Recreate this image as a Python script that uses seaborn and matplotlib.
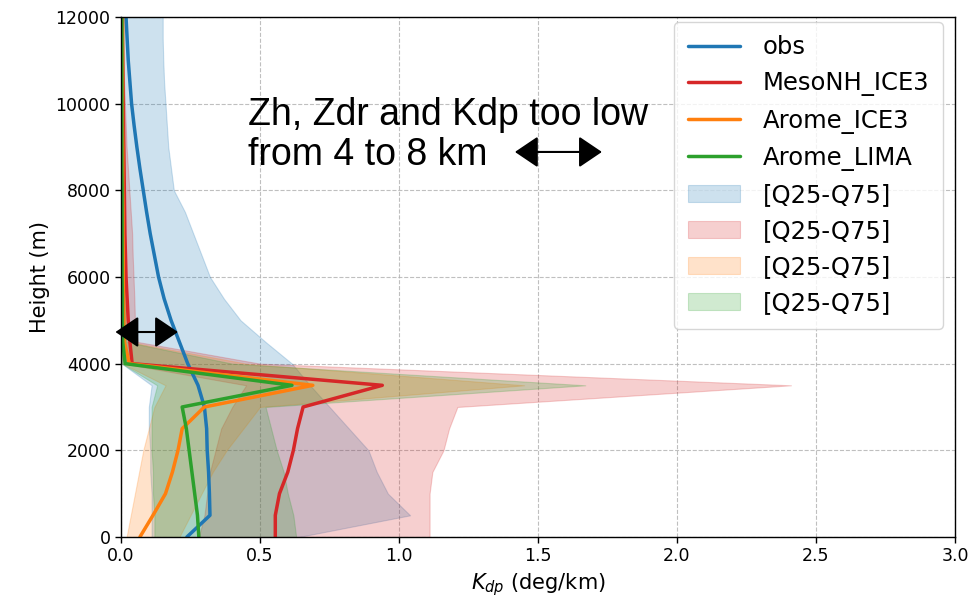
import numpy as np
import pandas as pd
import seaborn as sns
import matplotlib
matplotlib.use("Agg")
import matplotlib.pyplot as plt

# heights of the profile levels (m)
heights = [0, 500, 1000, 1500, 2000, 2500, 3000, 3500, 4000, 4500, 5000, 5500, 6000,
           6500, 7000, 7500, 8000, 8500, 9000, 9500, 10000, 10500, 11000, 11500, 12000]

# median Kdp profiles (deg/km)
obs_med = [0.237, 0.32, 0.318, 0.315, 0.31, 0.308, 0.30, 0.277, 0.24, 0.21, 0.18, 0.155, 0.135,
           0.12, 0.105, 0.092, 0.08, 0.068, 0.057, 0.047, 0.038, 0.032, 0.026, 0.022, 0.018]
mnh_med = [0.555, 0.555, 0.57, 0.60, 0.62, 0.635, 0.655, 0.94, 0.04, 0.032, 0.026, 0.022, 0.018,
           0.016, 0.014, 0.013, 0.012, 0.011, 0.010, 0.009, 0.008, 0.007, 0.006, 0.005, 0.005]
ice3_med = [0.068, 0.115, 0.16, 0.185, 0.205, 0.22, 0.30, 0.69, 0.03, 0.012, 0.010, 0.009, 0.008,
            0.008, 0.007, 0.007, 0.006, 0.006, 0.006, 0.005, 0.005, 0.005, 0.005, 0.005, 0.005]
lima_med = [0.28, 0.275, 0.265, 0.255, 0.245, 0.235, 0.22, 0.615, 0.015, 0.006, 0.005, 0.005, 0.004,
            0.004, 0.004, 0.004, 0.004, 0.003, 0.003, 0.003, 0.003, 0.003, 0.003, 0.003, 0.003]

# quartiles
obs_q25 = [0.11, 0.11, 0.11, 0.105, 0.105, 0.10, 0.10, 0.11, 0.003, 0, 0, 0, 0,
           0, 0, 0, 0, 0, 0, 0, 0, 0, 0, 0, 0]
obs_q75 = [0.64, 1.04, 0.96, 0.92, 0.89, 0.82, 0.75, 0.68, 0.615, 0.52, 0.43, 0.37, 0.32,
           0.29, 0.26, 0.23, 0.19, 0.18, 0.17, 0.165, 0.16, 0.155, 0.152, 0.15, 0.15]
mnh_q25 = [0.28, 0.30, 0.31, 0.32, 0.34, 0.36, 0.40, 0.45, 0.01, 0.005, 0.003, 0.002, 0.002,
           0.001, 0.001, 0.001, 0.001, 0, 0, 0, 0, 0, 0, 0, 0]
mnh_q75 = [1.11, 1.11, 1.11, 1.12, 1.16, 1.18, 1.21, 2.41, 0.50, 0.06, 0.05, 0.048, 0.045,
           0.042, 0.04, 0.035, 0.03, 0.025, 0.02, 0.017, 0.014, 0.011, 0.009, 0.007, 0.006]
ice3_q25 = [0.02, 0.035, 0.05, 0.065, 0.08, 0.10, 0.12, 0.16, 0.005, 0, 0, 0, 0,
            0, 0, 0, 0, 0, 0, 0, 0, 0, 0, 0, 0]
ice3_q75 = [0.21, 0.25, 0.29, 0.33, 0.38, 0.44, 0.50, 1.45, 0.45, 0.03, 0.02, 0.018, 0.016,
            0.015, 0.014, 0.013, 0.012, 0.012, 0.011, 0.011, 0.010, 0.010, 0.010, 0.010, 0.010]
lima_q25 = [0.12, 0.12, 0.115, 0.115, 0.11, 0.11, 0.11, 0.13, 0.003, 0, 0, 0, 0,
            0, 0, 0, 0, 0, 0, 0, 0, 0, 0, 0, 0]
lima_q75 = [0.63, 0.62, 0.60, 0.585, 0.56, 0.54, 0.52, 1.67, 0.40, 0.02, 0.015, 0.013, 0.012,
            0.011, 0.010, 0.010, 0.009, 0.009, 0.008, 0.008, 0.008, 0.007, 0.007, 0.007, 0.007]

names = ['obs', 'MesoNH_ICE3', 'Arome_ICE3', 'Arome_LIMA']
colors = ['#1f77b4', '#d62728', '#ff7f0e', '#2ca02c']
meds = [obs_med, mnh_med, ice3_med, lima_med]
q25s = [obs_q25, mnh_q25, ice3_q25, lima_q25]
q75s = [obs_q75, mnh_q75, ice3_q75, lima_q75]

sns.set_style('ticks')
plt.rcParams['font.family'] = ['DejaVu Sans']
plt.rcParams['text.color'] = 'black'
plt.rcParams['axes.labelcolor'] = 'black'
plt.rcParams['xtick.color'] = 'black'
plt.rcParams['ytick.color'] = 'black'

fig = plt.figure(figsize=(9.72, 6.06), dpi=100)
ax = fig.add_axes([0.1245, 0.1139, 0.858, 0.8581])

line_handles = []
for name, col, med in zip(names, colors, meds):
    df = pd.DataFrame({'kdp': med, 'height': heights})
    sns.lineplot(data=df, x='kdp', y='height', orient='y', sort=False, estimator=None,
                 color=col, lw=2.5, label=name, ax=ax, legend=False)
    line_handles.append(ax.lines[-1])

fill_handles = []
for col, lo, hi in zip(colors, q25s, q75s):
    f = ax.fill_betweenx(heights, lo, hi, color=col, alpha=0.22, lw=0.8, label='[Q25-Q75]')
    fill_handles.append(f)

ax.set_xlim(0, 3.0)
ax.set_ylim(0, 12000)
ax.set_xticks(np.arange(0, 3.01, 0.5))
ax.set_yticks(np.arange(0, 12001, 2000))
ax.grid(True, linestyle='--', color='#b0b0b0', lw=0.8, alpha=0.8)
ax.tick_params(labelsize=12.5, length=4, width=1)
for s in ax.spines.values():
    s.set_color('black')
    s.set_linewidth(1)
ax.set_xlabel('$K_{dp}$ (deg/km)', fontsize=15)
ax.set_ylabel('Height (m)', fontsize=15)

ax.text(0.457, 10160, 'Zh, Zdr and Kdp too low\nfrom 4 to 8 km', fontsize=27, color='black',
        family=['Liberation Sans', 'DejaVu Sans'], va='top', ha='left', linespacing=1.17)

leg = ax.legend(handles=line_handles + fill_handles,
                labels=names + ['[Q25-Q75]'] * 4,
                loc='upper right', bbox_to_anchor=(0.9856, 0.9904), borderaxespad=0,
                fontsize=17.5, frameon=True, framealpha=0.8,
                edgecolor='#cccccc', handlelength=2.15, handletextpad=0.95,
                borderpad=0.55, labelspacing=0.5)
leg.set_zorder(5)

arrow = dict(arrowstyle='<|-|>,head_length=0.4,head_width=0.27', color='black',
             lw=1.5, mutation_scale=36, shrinkA=0, shrinkB=0)
ax.annotate('', xy=(-0.02, 4730), xytext=(0.205, 4730), arrowprops=arrow,
            annotation_clip=False)
ax.annotate('', xy=(1.417, 8885), xytext=(1.73, 8885), arrowprops=arrow,
            annotation_clip=False)

fig.savefig('out.png', dpi=100)
